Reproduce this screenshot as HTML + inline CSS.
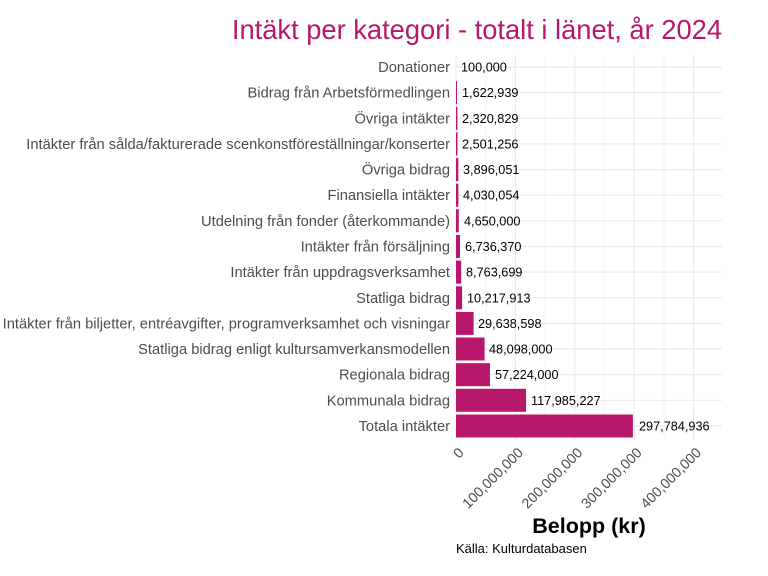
<!DOCTYPE html>
<html><head><meta charset="utf-8"><style>
html,body{margin:0;padding:0;background:#fff;}
svg{display:block;font-family:"Liberation Sans",sans-serif;}
</style></head><body>
<svg width="768" height="576" viewBox="0 0 768 576" xmlns="http://www.w3.org/2000/svg">
<rect width="768" height="576" fill="#fff"/>
<text x="722" y="39" text-anchor="end" font-size="27.3" fill="#b8186b">Intäkt per kategori - totalt i länet, år 2024</text>
<g stroke="#ebebeb" stroke-width="0.6">
<line x1="486" y1="55" x2="486" y2="440"/><line x1="545" y1="55" x2="545" y2="440"/>
<line x1="604" y1="55" x2="604" y2="440"/><line x1="664" y1="55" x2="664" y2="440"/>
</g>
<g stroke="#ebebeb" stroke-width="1.2">
<line x1="456" y1="55" x2="456" y2="440"/><line x1="515.4" y1="55" x2="515.4" y2="440"/>
<line x1="574.8" y1="55" x2="574.8" y2="440"/><line x1="634.2" y1="55" x2="634.2" y2="440"/>
<line x1="693.6" y1="55" x2="693.6" y2="440"/>
<line x1="456" y1="67" x2="722" y2="67"/><line x1="456" y1="92.6" x2="722" y2="92.6"/>
<line x1="456" y1="118.3" x2="722" y2="118.3"/><line x1="456" y1="143.9" x2="722" y2="143.9"/>
<line x1="456" y1="169.6" x2="722" y2="169.6"/><line x1="456" y1="195.2" x2="722" y2="195.2"/>
<line x1="456" y1="220.8" x2="722" y2="220.8"/><line x1="456" y1="246.5" x2="722" y2="246.5"/>
<line x1="456" y1="272.1" x2="722" y2="272.1"/><line x1="456" y1="297.8" x2="722" y2="297.8"/>
<line x1="456" y1="323.4" x2="722" y2="323.4"/><line x1="456" y1="349" x2="722" y2="349"/>
<line x1="456" y1="374.7" x2="722" y2="374.7"/><line x1="456" y1="400.3" x2="722" y2="400.3"/>
<line x1="456" y1="426" x2="722" y2="426"/>
</g>
<g fill="#b8186b">
<rect x="456" y="81.1" width="1" height="23"/>
<rect x="456" y="106.8" width="1.4" height="23"/>
<rect x="456" y="132.4" width="1.5" height="23"/>
<rect x="456" y="158.1" width="2.3" height="23"/>
<rect x="456" y="183.7" width="2.4" height="23"/>
<rect x="456" y="209.3" width="2.8" height="23"/>
<rect x="456" y="235" width="4" height="23"/>
<rect x="456" y="260.6" width="5.2" height="23"/>
<rect x="456" y="286.3" width="6.1" height="23"/>
<rect x="456" y="311.9" width="17.6" height="23"/>
<rect x="456" y="337.5" width="28.6" height="23"/>
<rect x="456" y="363.2" width="34" height="23"/>
<rect x="456" y="388.8" width="70.1" height="23"/>
<rect x="456" y="414.5" width="176.9" height="23"/>
</g>
<g font-size="14.7" fill="#4d4d4d" text-anchor="end">
<text x="450" y="72">Donationer</text>
<text x="450" y="97.6">Bidrag från Arbetsförmedlingen</text>
<text x="450" y="123.3">Övriga intäkter</text>
<text x="450" y="148.9">Intäkter från sålda/fakturerade scenkonstföreställningar/konserter</text>
<text x="450" y="174.6">Övriga bidrag</text>
<text x="450" y="200.2">Finansiella intäkter</text>
<text x="450" y="225.8">Utdelning från fonder (återkommande)</text>
<text x="450" y="251.5">Intäkter från försäljning</text>
<text x="450" y="277.1">Intäkter från uppdragsverksamhet</text>
<text x="450" y="302.8">Statliga bidrag</text>
<text x="450" y="328.4">Intäkter från biljetter, entréavgifter, programverksamhet och visningar</text>
<text x="450" y="354">Statliga bidrag enligt kultursamverkansmodellen</text>
<text x="450" y="379.7">Regionala bidrag</text>
<text x="450" y="405.3">Kommunala bidrag</text>
<text x="450" y="431">Totala intäkter</text>
</g>
<g font-size="12.7" fill="#000">
<text x="461" y="71.5">100,000</text>
<text x="462" y="97.1">1,622,939</text>
<text x="462" y="122.8">2,320,829</text>
<text x="462" y="148.4">2,501,256</text>
<text x="463" y="174.1">3,896,051</text>
<text x="463" y="199.7">4,030,054</text>
<text x="464" y="225.3">4,650,000</text>
<text x="465" y="251">6,736,370</text>
<text x="466" y="276.6">8,763,699</text>
<text x="467" y="302.3">10,217,913</text>
<text x="478" y="327.9">29,638,598</text>
<text x="489" y="353.5">48,098,000</text>
<text x="495" y="379.2">57,224,000</text>
<text x="531" y="404.8">117,985,227</text>
<text x="639" y="430.5">297,784,936</text>
</g>
<g font-size="14.2" fill="#4d4d4d" text-anchor="end">
<text transform="translate(457,446) rotate(-45)" dy="0.75em">0</text>
<text transform="translate(516.4,446) rotate(-45)" dy="0.75em">100,000,000</text>
<text transform="translate(575.8,446) rotate(-45)" dy="0.75em">200,000,000</text>
<text transform="translate(635.2,446) rotate(-45)" dy="0.75em">300,000,000</text>
<text transform="translate(694.6,446) rotate(-45)" dy="0.75em">400,000,000</text>
</g>
<text x="589" y="533" text-anchor="middle" font-size="21.5" font-weight="bold" fill="#000">Belopp (kr)</text>
<text x="456" y="553" font-size="13" fill="#000">Källa: Kulturdatabasen</text>
</svg>
</body></html>
